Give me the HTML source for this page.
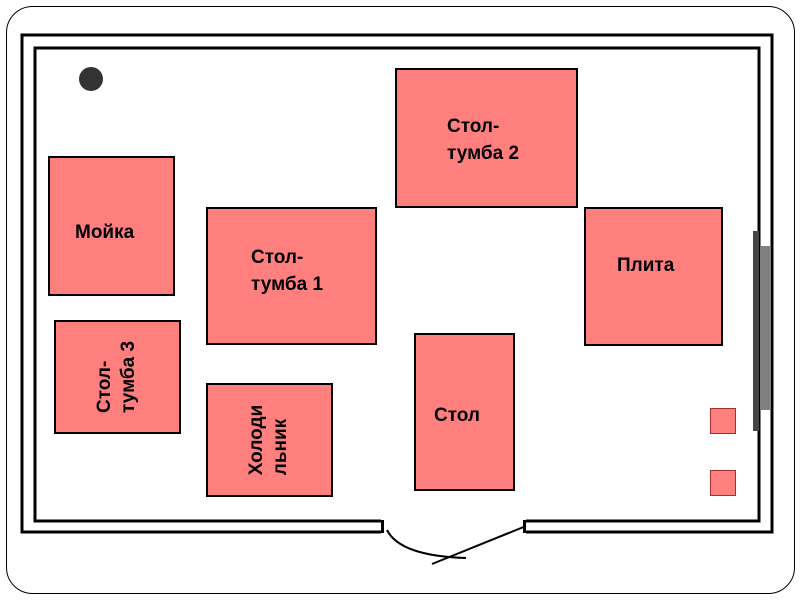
<!DOCTYPE html>
<html><head><meta charset="utf-8"><style>
body{margin:0;width:800px;height:600px;background:#fff;overflow:hidden;position:relative;font-family:"Liberation Sans",sans-serif}
.b{position:absolute;background:#ff7f7f;border:2px solid #000;box-sizing:border-box;font-weight:bold;font-size:19px;color:#000}
.t{position:absolute;line-height:27px}
.c{display:flex;align-items:center;justify-content:center}
.r{transform:rotate(-90deg);white-space:nowrap;line-height:24px}
.s{position:absolute;background:#ff7f7f;border:1px solid #a03030;box-sizing:border-box}
</style></head><body>
<svg width="800" height="600" style="position:absolute;left:0;top:0">
<rect x="6.5" y="6.5" width="788" height="587" rx="26" fill="none" stroke="#000" stroke-width="1"/>
<path d="M381 532 H22 V35 H772 V532 H526" fill="none" stroke="#000" stroke-width="3"/>
<path d="M381 521 H35 V48 H759 V521 H526" fill="none" stroke="#000" stroke-width="3"/>
<rect x="381" y="520" width="3" height="13" fill="#000"/>
<rect x="523" y="520" width="3" height="13" fill="#000"/>
<rect x="753" y="231" width="6" height="200" fill="#444"/>
<rect x="761" y="246" width="9" height="164" fill="#808080"/>
<circle cx="91" cy="79" r="12" fill="#333"/>
<path d="M387 530 Q400 556 466 558" fill="none" stroke="#000" stroke-width="2"/>
<line x1="432" y1="564" x2="526" y2="526" stroke="#000" stroke-width="2"/>
</svg>
<div class="b" style="left:48px;top:156px;width:127px;height:140px"><div class="t" style="left:25px;top:61px">Мойка</div></div>
<div class="b c" style="left:54px;top:320px;width:127px;height:114px"><div class="r">Стол-<br>тумба 3</div></div>
<div class="b c" style="left:206px;top:383px;width:127px;height:114px"><div class="r">Холоди<br>льник</div></div>
<div class="b" style="left:206px;top:207px;width:171px;height:138px"><div class="t" style="left:43px;top:35px">Стол-<br>тумба 1</div></div>
<div class="b" style="left:395px;top:68px;width:183px;height:140px"><div class="t" style="left:50px;top:43px">Стол-<br>тумба 2</div></div>
<div class="b" style="left:414px;top:333px;width:101px;height:158px"><div class="t" style="left:18px;top:67px">Стол</div></div>
<div class="b" style="left:584px;top:207px;width:139px;height:139px"><div class="t" style="left:31px;top:43px">Плита</div></div>
<div class="s" style="left:710px;top:408px;width:26px;height:26px"></div>
<div class="s" style="left:710px;top:470px;width:26px;height:26px"></div>
</body></html>
